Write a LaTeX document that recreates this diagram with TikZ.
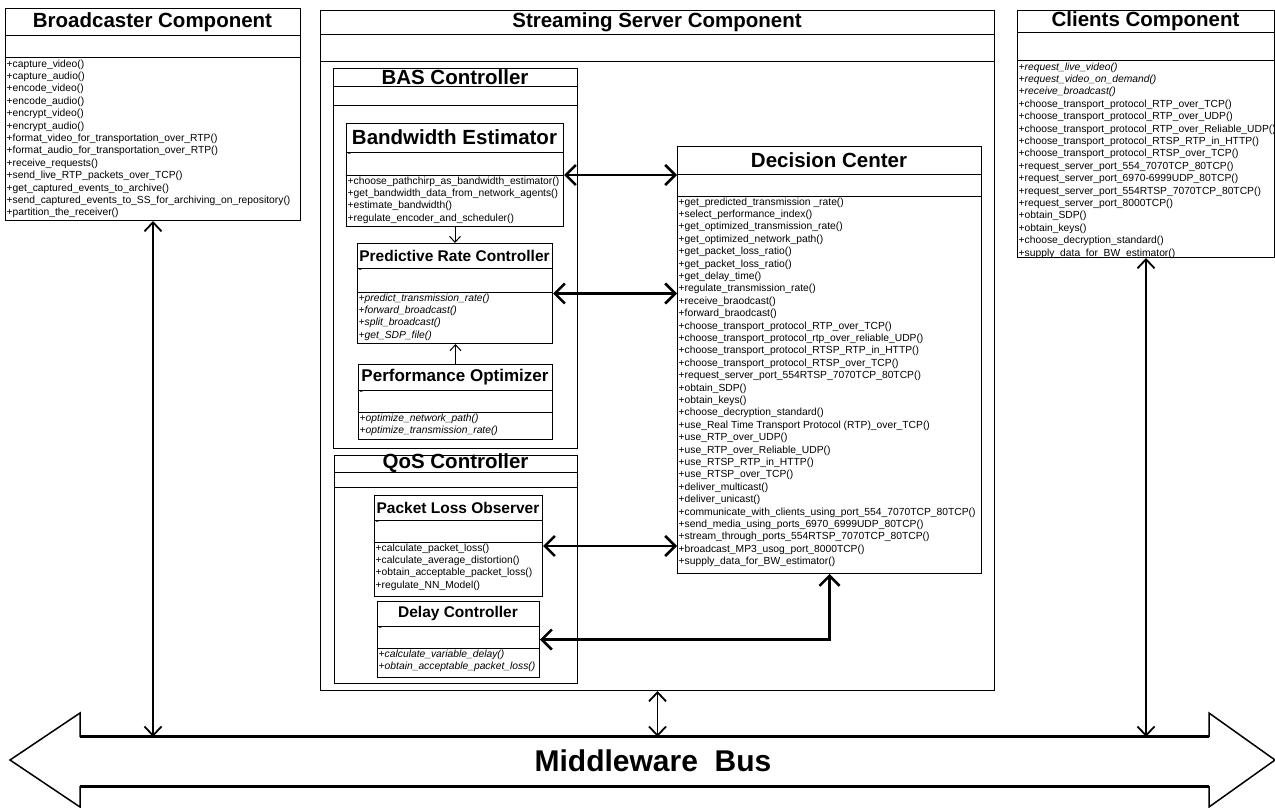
\documentclass[tikz,border=0pt]{standalone}
\usepackage{fontspec}
\setmainfont{Liberation Sans}
\usetikzlibrary{arrows.meta,calc}

\tikzset{
  classbox/.style={draw, line width=1pt, anchor=north west, inner sep=0pt},
  classline/.style={line width=1pt},
  classtitle/.style={font=\bfseries, inner sep=0pt},
  methods/.style={anchor=north west, align=left, inner sep=1.5pt, font=\fontsize{10.3}{12.4}\selectfont},
  attrtext/.style={anchor=north west, inner sep=1.5pt, font=\fontsize{10.3}{12.4}\selectfont},
  dclink/.style={<->, line width=2.6pt, >={Straight Barb[length=10pt,width=20pt]}},
  buslink/.style={<->, line width=1.8pt, >={Straight Barb[length=9pt,width=17pt]}},
  sublink/.style={->, line width=1pt, >={Straight Barb[length=6pt,width=11pt]}}
}

% one UML class: name, x, y, width, height, title band, attribute band, title, operations
\newcommand{\umlclass}[9]{%
  \node[classbox, minimum width=#4pt, minimum height=#5pt] (#1) at (#2,#3) {};
  \coordinate (#1-attr) at (#2,#3+#6);
  \draw[classline] (#1-attr) -- ++(#4,0);
  \draw[classline] (#2,#3+#6+#7) -- ++(#4,0);
  \node[classtitle] (#1-title) at (#2+#4/2,#3+#6/2) {#8};
  \node[methods] (#1-ops) at (#2,#3+#6+#7) {#9};
}
\newcommand{\tsize}[1]{\fontsize{#1}{#1}\selectfont}

\begin{document}
\begin{tikzpicture}[x=1pt,y=-1pt]
\useasboundingbox (0,0) rectangle (1275,808);

% Broadcaster
\umlclass{bc}{5}{8}{295}{212}{28}{22}{\tsize{20.5}Broadcaster Component}{%
+capture\_video()\\
+capture\_audio()\\
+encode\_video()\\
+encode\_audio()\\
+encrypt\_video()\\
+encrypt\_audio()\\
+format\_video\_for\_transportation\_over\_RTP()\\
+format\_audio\_for\_transportation\_over\_RTP()\\
+receive\_requests()\\
+send\_live\_RTP\_packets\_over\_TCP()\\
+get\_captured\_events\_to\_archive()\\
+send\_captured\_events\_to\_SS\_for\_archiving\_on\_repository()\\
+partition\_the\_receiver()}

% Clients
\umlclass{cl}{1017}{10}{257}{247}{23}{28}{\tsize{20.5}Clients Component}{%
\textit{+request\_live\_video()}\\
\textit{+request\_video\_on\_demand()}\\
\textit{+receive\_broadcast()}\\
+choose\_transport\_protocol\_RTP\_over\_TCP()\\
+choose\_transport\_protocol\_RTP\_over\_UDP()\\
+choose\_transport\_protocol\_RTP\_over\_Reliable\_UDP()\\
+choose\_transport\_protocol\_RTSP\_RTP\_in\_HTTP()\\
+choose\_transport\_protocol\_RTSP\_over\_TCP()\\
+request\_server\_port\_554\_7070TCP\_80TCP()\\
+request\_server\_port\_6970-6999UDP\_80TCP()\\
+request\_server\_port\_554RTSP\_7070TCP\_80TCP()\\
+request\_server\_port\_8000TCP()\\
+obtain\_SDP()\\
+obtain\_keys()\\
+choose\_decryption\_standard()\\
+supply\_data\_for\_BW\_estimator()}

% Streaming server and its parts
\umlclass{ss}{320}{10}{674}{680}{25}{27}{\tsize{20.5}Streaming Server Component}{}
\umlclass{bas}{333}{68}{244}{380}{19}{18}{\tsize{20.5}BAS Controller}{}
\umlclass{be}{346}{123}{217}{103}{29}{23}{\tsize{20.5}Bandwidth Estimator}{%
+choose\_pathchirp\_as\_bandwidth\_estimator()\\
+get\_bandwidth\_data\_from\_network\_agents()\\
+estimate\_bandwidth()\\
+regulate\_encoder\_and\_scheduler()}
\umlclass{prc}{357}{243}{195}{100}{25}{24}{\tsize{15.5}Predictive Rate Controller}{%
\textit{+predict\_transmission\_rate()}\\
\textit{+forward\_broadcast()}\\
\textit{+split\_broadcast()}\\
\textit{+get\_SDP\_file()}}
\umlclass{po}{358}{364}{194}{75}{26}{22}{\tsize{17}Performance Optimizer}{%
\textit{+optimize\_network\_path()}\\
\textit{+optimize\_transmission\_rate()}}
\umlclass{qos}{334}{455}{243}{228}{17}{15}{\tsize{20.5}QoS Controller}{}
\umlclass{plo}{374}{495}{168}{101}{25}{22}{\tsize{15.5}Packet Loss Observer}{%
+calculate\_packet\_loss()\\
+calculate\_average\_distortion()\\
+obtain\_acceptable\_packet\_loss()\\
+regulate\_NN\_Model()}
\umlclass{dly}{377}{601}{162}{76}{25}{22}{\tsize{15.5}Delay Controller}{%
\textit{+calculate\_variable\_delay()}\\
\textit{+obtain\_acceptable\_packet\_loss()}}
\umlclass{dc}{677}{146}{304}{427}{28}{22}{\tsize{20.5}Decision Center}{%
+get\_predicted\_transmission \_rate()\\
+select\_performance\_index()\\
+get\_optimized\_transmission\_rate()\\
+get\_optimized\_network\_path()\\
+get\_packet\_loss\_ratio()\\
+get\_packet\_loss\_ratio()\\
+get\_delay\_time()\\
+regulate\_transmission\_rate()\\
+receive\_braodcast()\\
+forward\_braodcast()\\
+choose\_transport\_protocol\_RTP\_over\_TCP()\\
+choose\_transport\_protocol\_rtp\_over\_reliable\_UDP()\\
+choose\_transport\_protocol\_RTSP\_RTP\_in\_HTTP()\\
+choose\_transport\_protocol\_RTSP\_over\_TCP()\\
+request\_server\_port\_554RTSP\_7070TCP\_80TCP()\\
+obtain\_SDP()\\
+obtain\_keys()\\
+choose\_decryption\_standard()\\
+use\_Real Time Transport Protocol (RTP)\_over\_TCP()\\
+use\_RTP\_over\_UDP()\\
+use\_RTP\_over\_Reliable\_UDP()\\
+use\_RTSP\_RTP\_in\_HTTP()\\
+use\_RTSP\_over\_TCP()\\
+deliver\_multicast()\\
+deliver\_unicast()\\
+communicate\_with\_clients\_using\_port\_554\_7070TCP\_80TCP()\\
+send\_media\_using\_ports\_6970\_6999UDP\_80TCP()\\
+stream\_through\_ports\_554RTSP\_7070TCP\_80TCP()\\
+broadcast\_MP3\_usog\_port\_8000TCP()\\
+supply\_data\_for\_BW\_estimator()}

% empty attributes
\foreach \c in {be,prc,po,plo,dly} \node[attrtext] (\c-dash) at (\c-attr) {-};

% Middleware bus
\node[minimum width=1129pt, minimum height=49pt, inner sep=0pt] (bus) at (644.5,761.5) {};
\draw[line width=1.5pt, line join=miter] (80,737) -- (80,713) -- (10,760) -- (80,807) -- (80,786);
\draw[line width=1.5pt, line join=miter] (1209,737) -- (1209,713) -- (1275,760) -- (1209,807) -- (1209,786);
\draw[line width=3pt] (bus.north west) -- (bus.north east);
\draw[line width=3pt] (bus.south west) -- (bus.south east);
\node[font=\bfseries\fontsize{30}{32}\selectfont] (buslabel) at (653,761) {Middleware\ \ Bus};

% connectors
\draw[sublink] (be.south) -- (be.south |- prc.north);
\draw[sublink] (po.north) -- (po.north |- prc.south);
\draw[dclink] (be.east) -- (be.east -| dc.west);
\draw[dclink] (prc.east) -- (prc.east -| dc.west);
\draw[dclink] (plo.east) -- (plo.east -| dc.west);
\draw[dclink] (dc.south) |- (dly.east);
\foreach \c in {bc,ss,cl} \draw[buslink] (\c.south) -- (\c.south |- bus.north);

\end{tikzpicture}
\end{document}
